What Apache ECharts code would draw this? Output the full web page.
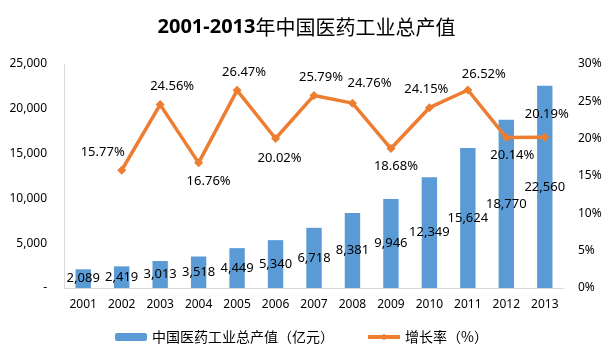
<!DOCTYPE html>
<html>
<head>
<meta charset="utf-8">
<script src="https://cdn.jsdelivr.net/npm/echarts@6/dist/echarts.min.js"></script>
<style>html,body{margin:0;padding:0;background:#fff;}#c{width:613px;height:353px;}</style>
</head>
<body>
<div id="c"></div>
<script>
const titleYears = '2001-2013';
const titleRest = '年中国医药工业总产值';
const categories = ['2001','2002','2003','2004','2005','2006','2007','2008','2009','2010','2011','2012','2013'];
const outputValues = [2089, 2419, 3013, 3518, 4449, 5340, 6718, 8381, 9946, 12349, 15624, 18770, 22560];
const growthRates = [null, 15.77, 24.56, 16.76, 26.47, 20.02, 25.79, 24.76, 18.68, 24.15, 26.52, 20.14, 20.19];
const seriesNames = ['中国医药工业总产值（亿元）', '增长率（%）'];
// label placement styling for growth labels
const labelPlace = [null,'top','top','bottom','top','bottom','top','top','bottom','top','top','bottom','top'];
const labelOffset = [null,[-19,0],[12,0],[10,0],[7,0],[4,2],[7,0],[17,-2],[5,0],[-3,0],[16,2],[6,0],[2,-5]];

const font = '"Noto Sans", "Noto Sans CJK SC", sans-serif';
const chart = echarts.init(document.getElementById('c'));
chart.setOption({
  animation: false,
  title: {
    text: '{a|' + titleYears + '}{b|' + titleRest + '}', left: 'center', top: 12,
    textStyle: {
      rich: {
        a: { fontSize: 20, fontWeight: 'bold', color: '#000', fontFamily: '"Noto Sans", sans-serif' },
        b: { fontSize: 20, fontWeight: 'normal', color: '#000', fontFamily: '"Noto Sans CJK SC", sans-serif' }
      }
    }
  },
  legend: {
    bottom: 4, left: 110, itemGap: 32, itemWidth: 32, itemHeight: 8,
    textStyle: { fontSize: 14, color: '#000', fontFamily: '"Noto Sans CJK SC", sans-serif' },
    data: [{ name: seriesNames[0] }, { name: seriesNames[1], lineStyle: { width: 4 } }]
  },
  grid: { left: 64, right: 49, top: 64, bottom: 65 },
  xAxis: {
    type: 'category', data: categories,
    axisLine: { lineStyle: { color: '#d9d9d9' } },
    axisTick: { show: false },
    axisLabel: { color: '#000', fontSize: 12, fontFamily: font, margin: 11, interval: 0 }
  },
  yAxis: [{
    type: 'value', min: 0, max: 25000, interval: 5000,
    axisLine: { show: true, lineStyle: { color: '#d9d9d9' } },
    axisTick: { show: false }, splitLine: { show: false },
    axisLabel: { color: '#000', fontSize: 12, fontFamily: font, margin: 17,
      formatter: v => v === 0 ? '-' : v.toLocaleString('en-US') }
  }, {
    type: 'value', min: 0, max: 30, interval: 5,
    axisLine: { show: false }, axisTick: { show: false }, splitLine: { show: false },
    axisLabel: { color: '#000', fontSize: 12, fontFamily: font, margin: 14, formatter: '{value}%' }
  }],
  series: [{
    name: seriesNames[0], type: 'bar', data: outputValues, barWidth: '40%',
    itemStyle: { color: '#5b9bd5' },
    label: { show: true, position: 'inside', color: '#000', fontSize: 13, fontFamily: font,
      formatter: p => p.value.toLocaleString('en-US') }
  }, {
    name: seriesNames[1], type: 'line', yAxisIndex: 1,
    data: growthRates.map((v, i) => v === null ? null : ({
      value: v,
      label: { position: labelPlace[i], offset: labelOffset[i] }
    })),
    lineStyle: { color: '#ed7d31', width: 3.5 },
    itemStyle: { color: '#ed7d31' },
    symbol: 'diamond', symbolSize: 9,
    label: { show: true, color: '#000', fontSize: 13, fontFamily: font, distance: 7,
      formatter: p => p.value.toFixed(2) + '%' }
  }]
});
</script>
</body>
</html>
